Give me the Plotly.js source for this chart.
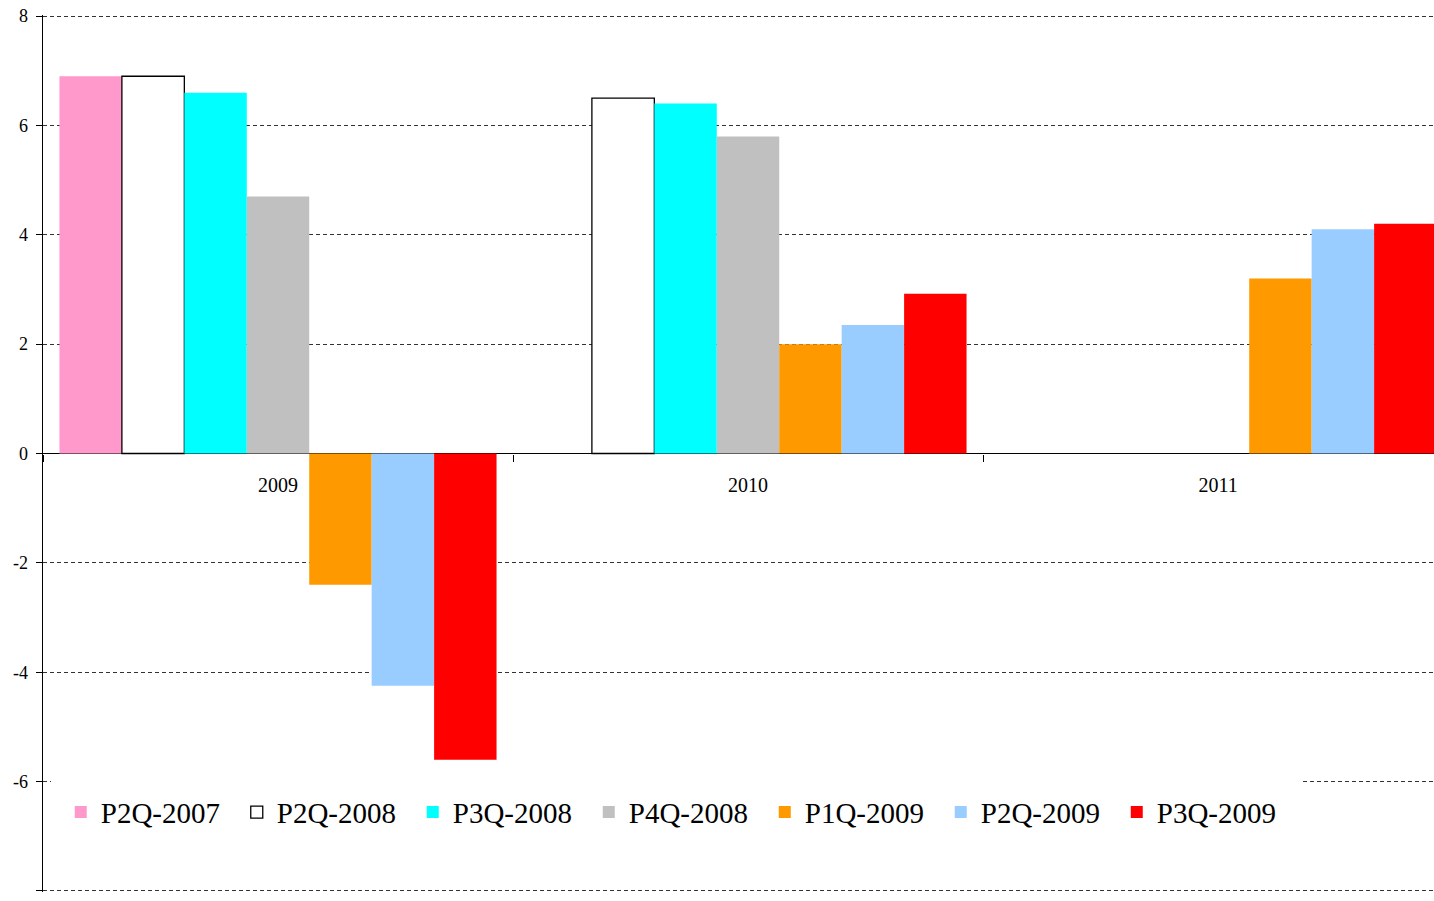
<!DOCTYPE html>
<html>
<head>
<meta charset="utf-8">
<script src="https://cdn.plot.ly/plotly-3.0.1.min.js"></script>
<style>html,body{margin:0;padding:0;background:#fff;}#chart{width:1434px;height:901px;}</style>
</head>
<body>
<div id="chart"></div>
<script>
const categories = ['2009', '2010', '2011'];
const seriesNames = ['P2Q-2007', 'P2Q-2008', 'P3Q-2008', 'P4Q-2008', 'P1Q-2009', 'P2Q-2009', 'P3Q-2009'];
const p2q2007 = [6.9, null, null];
const p2q2008 = [6.9, 6.5, null];
const p3q2008 = [6.6, 6.4, null];
const p4q2008 = [4.7, 5.8, null];
const p1q2009 = [-2.4, 2.0, 3.2];
const p2q2009 = [-4.25, 2.35, 4.1];
const p3q2009 = [-5.6, 2.92, 4.2];
const yTickVals = [-8, -6, -4, -2, 0, 2, 4, 6, 8];
const yTickText = ['-8', '-6', '-4', '-2', '0', '2', '4', '6', '8'];
const seriesValues = [p2q2007, p2q2008, p3q2008, p4q2008, p1q2009, p2q2009, p3q2009];
const colors = ['#FF99CC', '#FFFFFF', '#00FFFF', '#C0C0C0', '#FF9900', '#99CCFF', '#FF0000'];
const lineWidths = [0, 1.3, 0, 0, 0, 0, 0];

const font = '"Liberation Serif", "Times New Roman", serif';
const traces = seriesNames.map((n, i) => ({
  type: 'bar', name: n, x: categories, y: seriesValues[i],
  marker: {color: colors[i], line: {color: '#000', width: lineWidths[i]}},
  hoverinfo: 'none'
}));

const plotW = 1434 - 43;
const catW = 470;
const layout = {
  width: 1434, height: 901,
  margin: {l: 43, r: 0, t: 15, b: 9, pad: 0},
  paper_bgcolor: '#fff', plot_bgcolor: '#fff',
  barmode: 'group', bargap: 0.07, bargroupgap: 0,
  font: {family: font, color: '#000', size: 18},
  showlegend: true,
  legend: {
    orientation: 'h', x: 8/1434, xanchor: 'left', y: 0.091, yanchor: 'middle',
    yref: 'paper', bgcolor: '#fff', bordercolor: '#fff', borderwidth: 10,
    font: {family: font, size: 29, color: '#000'},
    entrywidth: 131, entrywidthmode: 'pixels', traceorder: 'normal'
  },
  xaxis: {
    type: 'category', range: [-0.5, -0.5 + plotW / catW],
    anchor: 'free', position: 0.5,
    showgrid: false, showline: false, zeroline: false,
    ticks: 'outside', tickson: 'boundaries', ticklen: 7, tickcolor: '#000', tickwidth: 1,
    ticklabelstandoff: 17,
    tickfont: {family: font, size: 20, color: '#000'}
  },
  yaxis: {
    range: [-8.02, 8.02], tickmode: 'array', tickvals: yTickVals, ticktext: yTickText,
    showline: true, linecolor: '#000', linewidth: 1.5,
    ticks: 'outside', ticklen: 6, tickcolor: '#000',
    showgrid: true, gridcolor: '#333', gridwidth: 1, griddash: '4px,3px',
    zeroline: true, zerolinecolor: '#000', zerolinewidth: 1,
    ticklabelstandoff: 4,
    tickfont: {family: font, size: 18, color: '#000'}
  }
};
Plotly.newPlot('chart', traces, layout, {displayModeBar: false, staticPlot: true});
</script>
</body>
</html>
